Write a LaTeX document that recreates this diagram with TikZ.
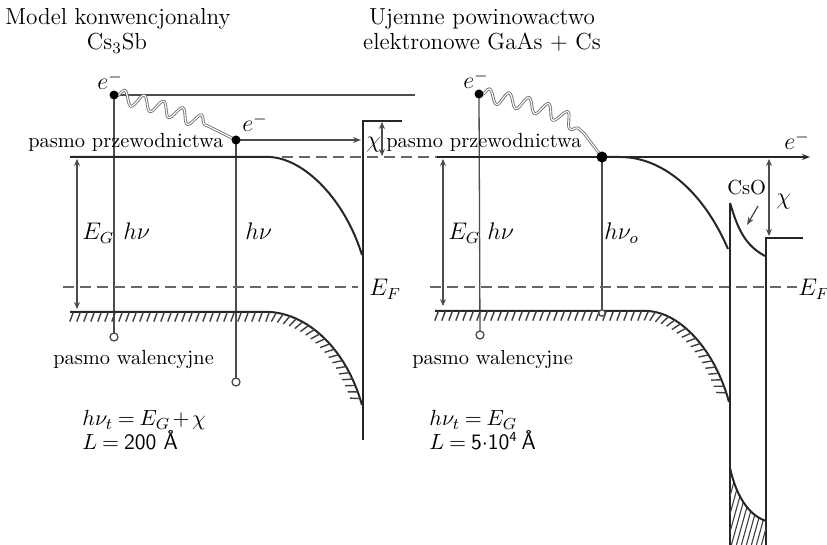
\documentclass[tikz,border=0pt]{standalone}
\usetikzlibrary{arrows.meta,decorations.pathmorphing,decorations.markings}
\begin{document}
\begin{tikzpicture}[x=0.5pt,y=-0.5pt,
  lbl/.style={font=\fontsize{10.2}{12}\selectfont, inner sep=0pt, anchor=base west},
  mth/.style={font=\fontsize{11.5}{13}\selectfont, inner sep=0pt, anchor=base west},
  frm/.style={font=\fontsize{11}{12}\selectfont, inner sep=0pt, anchor=base west},
  ttl/.style={font=\fontsize{11.6}{13}\selectfont, inner sep=0pt, anchor=base},
  band/.style={line width=1pt, draw=black!85},
  wall/.style={line width=1.1pt, draw=black!85},
  thinl/.style={line width=0.65pt, draw=black!70},
  dashl/.style={line width=0.8pt, draw=black!60, dash pattern=on 5.5pt off 3pt},
  tip/.style={-{Stealth[length=4pt,width=3pt]}},
  dtip/.style={{Stealth[length=3.5pt,width=3pt]}-{Stealth[length=3.5pt,width=3pt]}},
  wave/.style={draw=black!55, line width=0.45pt, double=white, double distance=0.55pt, decorate, decoration={snake, segment length=10pt, amplitude=3.5pt, pre length=1.5pt, post length=15pt}},
  hatch/.style={postaction={decorate, decoration={markings, mark=between positions 0.01 and 0.99 step 3.5pt with {\draw[line width=0.7pt, black!75] (0pt,0pt) -- (-1.8pt,-4.8pt);}}}},
  edot/.style={circle, fill=black, inner sep=0pt, minimum size=4.5pt},
  hole/.style={circle, draw=black!70, fill=white, line width=0.65pt, inner sep=0pt, minimum size=4pt}
]
\useasboundingbox (0,0) rectangle (827,545);

% key points
\coordinate (L1) at (114,95);
\coordinate (L2) at (236,140);
\coordinate (Lh1) at (114,337);
\coordinate (Lh2) at (236,382);
\coordinate (Ltop) at (415,95);
\coordinate (Larr) at (361,140);
\coordinate (R1) at (479,94);
\coordinate (R2) at (602,157);
\coordinate (Rh1) at (480,335);
\coordinate (Rh2) at (602,313);

% ---------- left panel ----------
\draw[thinl] (L1) -- (Ltop);
\draw[thinl] (L1) -- (Lh1);
\draw[thinl] (L2) -- (Lh2);
\draw[wave] (L1) .. controls (150,103) and (200,120) .. (L2);
\draw[thinl,tip] (L2) -- (Larr);
\draw[wall] (402,121) -- (363,121) -- (363,440);
\draw[thinl,dtip] (382,122) -- (382,156);
\draw[dashl] (282,157) -- (437,157);
\draw[band] (70,157) -- (270,157) .. controls (305,159) and (345,200) .. (362,255);
\draw[dashl] (63,287) -- (358,287);
\draw[band,hatch] (70,312) -- (270,312) .. controls (305,314) and (345,345) .. (362,405);
\draw[thinl,dtip] (77,159) -- (77,309);

% ---------- right panel ----------
\draw[thinl] (R1) -- (Rh1);
\draw[thinl] (R2) -- (Rh2);
\draw[wave] (R1) .. controls (520,102) and (580,112) .. (R2);
\draw[band,tip] (437,157) -- (810,157);
\draw[band] (R2) -- (620,157) .. controls (665,157) and (705,195) .. (728,249);
\draw[dashl] (430,287) -- (797,287);
\draw[band,hatch] (435,311) -- (647,311) .. controls (680,312) and (715,350) .. (729,402);
\draw[thinl,dtip] (443,159) -- (443,306);
\draw[wall] (730,203) -- (730,545);
\draw[band] (730,203) .. controls (736,222) and (742,244) .. (765,256);
\draw[wall] (803,238) -- (766,238) -- (766,545);
\draw[thinl,dtip] (769,159) -- (769,236);
\draw[thinl,tip] (758,206) -- (747,225);
\begin{scope}
  \clip (730,468) .. controls (736,495) and (748,515) .. (766,521) -- (766,545) -- (730,545) -- cycle;
  \foreach \i in {690,695,...,790} \draw[line width=0.55pt, black!75] (\i,550) -- ++(25,-90);
\end{scope}
\draw[band] (730,468) .. controls (736,495) and (748,515) .. (766,521);

% ---------- dots ----------
\node[edot] (dL1) at (L1) {};
\node[edot] (dL2) at (L2) {};
\node[edot] (dR1) at (R1) {};
\node[edot, minimum size=5.5pt] (dR2) at (R2) {};
\node[hole] (hL1) at (Lh1) {};
\node[hole] (hL2) at (Lh2) {};
\node[hole] (hR1) at (Rh1) {};
\node[hole, minimum size=3.2pt] (hR2) at (Rh2) {};

% ---------- texts ----------
\node[ttl] (t1) at (118,25) {Model konwencjonalny};
\node[ttl] (t2) at (117,50) {Cs$_3$Sb};
\node[ttl] (t3) at (482,25) {Ujemne powinowactwo};
\node[ttl] (t4) at (482,50) {elektronowe GaAs + Cs};

\node[mth] (eL1) at (97,90) {$e^{-}$};
\node[mth] (eL2) at (242,132) {$e^{-}$};
\node[mth] (eR1) at (463,89) {$e^{-}$};
\node[mth] (eR2) at (784,150) {$e^{-}$};

\node[lbl] (pcL) at (28,148) {pasmo przewodnictwa};
\node[lbl] (pcR) at (386,148) {pasmo przewodnictwa};
\node[mth] (chiL) at (366,148) {$\chi$};
\node[mth] (egL) at (82,240) {$E_G$};
\node[mth] (hvL1) at (123,240) {$h\nu$};
\node[mth] (hvL2) at (245,240) {$h\nu$};
\node[mth] (efL) at (369,296) {$E_F$};
\node[lbl] (pwL) at (53,365) {pasmo walencyjne};
\node[frm] (fL1) at (82,426) {$h\nu_t\mkern4mu{=}\mkern4mu E_G\mkern2mu{+}\mkern2mu\chi$};
\node[frm] (fL2) at (82,450) {$L\mkern4mu{=}\mkern4mu\textsf{200 Å}$};

\node[mth] (egR) at (448,240) {$E_G$};
\node[mth] (hvR1) at (487,240) {$h\nu$};
\node[mth] (hvR2) at (604,240) {$h\nu_o$};
\node[mth] (efR) at (798,296) {$E_F$};
\node[lbl] (csoR) at (727,195) {CsO};
\node[mth] (chiR) at (776,205) {$\chi$};
\node[lbl] (pwR) at (412,365) {pasmo walencyjne};
\node[frm] (fR1) at (429,426) {$h\nu_t\mkern4mu{=}\mkern4mu E_G$};
\node[frm] (fR2) at (429,450) {$L\mkern4mu{=}\mkern4mu\textsf{5}{\cdot}\textsf{10}^{\textsf{\scriptsize 4}}\,\textsf{Å}$};
\end{tikzpicture}
\end{document}
